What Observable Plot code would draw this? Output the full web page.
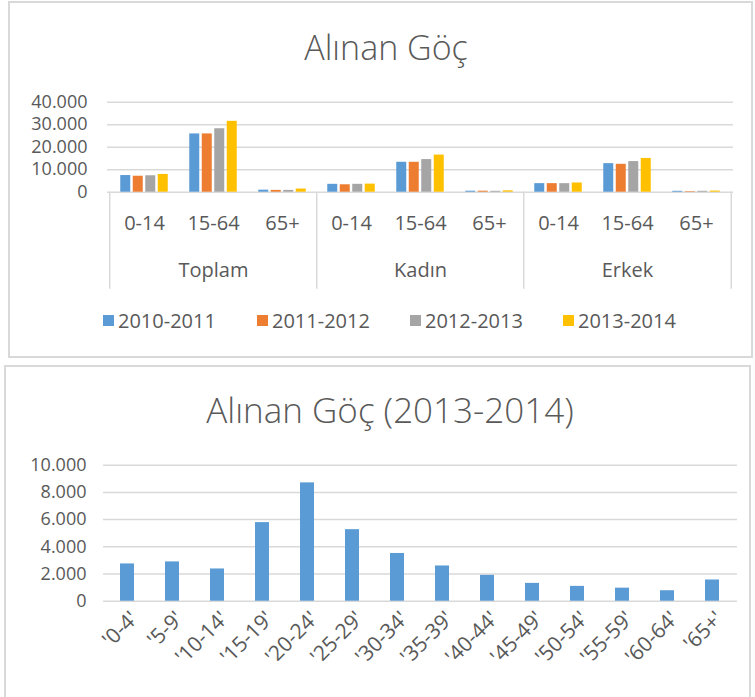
<!DOCTYPE html>
<html>
<head>
<meta charset="utf-8">
<script src="https://cdn.jsdelivr.net/npm/d3@7"></script>
<script src="https://cdn.jsdelivr.net/npm/@observablehq/plot@0.6"></script>
<style>
  body { margin: 0; background: #fff; font-family: "Open Sans", sans-serif; color: #595959; }
  #page { position: relative; width: 755px; height: 697px; overflow: hidden; background: #fff; }
  .panel { position: absolute; border: 2px solid #d9d9d9; box-sizing: border-box; background: #fff; }
  .title { position: absolute; width: 600px; text-align: center; font-weight: 300; font-size: 34px; line-height: 40px; color: #595959; white-space: nowrap; }
  .chart { position: absolute; left: 0; }
  .legend { position: absolute; left: 0; top: 306px; width: 755px; height: 28px; display: flex; align-items: center; font-size: 20px; color: #595959; }
  .legend .item { position: absolute; display: flex; align-items: center; }
  .legend .sw { width: 11px; height: 11px; margin-right: 4px; }
</style>
</head>
<body>
<div id="page">
  <div class="panel" style="left:8px;top:1px;width:745px;height:357px;"></div>
  <div class="panel" style="left:4px;top:365px;width:747px;height:340px;"></div>
  <div class="title" style="top:27px;left:86px;">Alınan Göç</div>
  <div class="title" style="top:390px;left:90px;font-size:35px;">Alınan Göç (2013-2014)</div>
  <div id="top" class="chart" style="top:80px;"></div>
  <div id="legend" class="legend"></div>
  <div id="bottom" class="chart" style="top:440px;"></div>
</div>
<script>
// ---------- data ----------
const groups = ["Toplam", "Kadın", "Erkek"];
const ages = ["0-14", "15-64", "65+"];
const periods = ["2010-2011", "2011-2012", "2012-2013", "2013-2014"];
const periodColors = ["#5B9BD5", "#ED7D31", "#A5A5A5", "#FFC000"];
// values per age group, one entry per period
const toplamValues = [[7400, 7100, 7300, 7900], [25900, 25900, 28200, 31500], [900, 800, 800, 1400]];
const kadinValues = [[3500, 3300, 3500, 3600], [13300, 13300, 14500, 16500], [450, 450, 400, 600]];
const erkekValues = [[3800, 3800, 3800, 4100], [12700, 12400, 13600, 15000], [400, 250, 400, 500]];
const topTicks = [0, 10000, 20000, 30000, 40000];

const ageBands2014 = ["'0-4'", "'5-9'", "'10-14'", "'15-19'", "'20-24'", "'25-29'", "'30-34'", "'35-39'", "'40-44'", "'45-49'", "'50-54'", "'55-59'", "'60-64'", "'65+'"];
const values2014 = [2740, 2890, 2370, 5780, 8700, 5260, 3510, 2590, 1900, 1310, 1090, 960, 770, 1560];
const bottomTicks = [0, 2000, 4000, 6000, 8000, 10000];

// ---------- helpers ----------
const fmt = d => d === 0 ? "0" : d3.format(",")(d).replace(/,/g, ".");
const grid = "#d9d9d9";
const W = 755;

// ---------- top chart ----------
const groupValues = [toplamValues, kadinValues, erkekValues];
const keys = groups.flatMap(g => ages.map(a => g + "|" + a));
const rows = [];
groups.forEach((g, gi) => ages.forEach((a, ai) => periods.forEach((p, pi) => {
  rows.push({key: g + "|" + a, group: g, age: a, period: p, value: groupValues[gi][ai][pi]});
})));

const mL = 107, mR = 22;
const step = (W - mL - mR) / keys.length;
const barW = 10, barStep = 12.5;
const pin = 1 - barW / step;

const topChart = Plot.plot({
  width: W, height: 215,
  marginLeft: mL, marginRight: mR, marginTop: 21.7, marginBottom: 103.3,
  style: {fontFamily: "Open Sans", fontSize: "20px", color: "#595959", background: "transparent", overflow: "visible"},
  x: {domain: keys, paddingInner: pin, paddingOuter: pin / 2, tickSize: 0, tickPadding: 24, tickFormat: k => k.split("|")[1], label: null},
  y: {domain: [0, 40000], ticks: topTicks, tickFormat: fmt, tickSize: 0, tickPadding: 20, label: null},
  marks: [
    Plot.ruleY(topTicks, {stroke: grid, strokeWidth: 1.5}),
    ...periods.map((p, i) => Plot.barY(rows.filter(r => r.period === p), {
      x: "key", y: "value", fill: periodColors[i], dx: (i - 1.5) * barStep
    })),
    Plot.ruleX(groups, {x: g => g + "|0-14", dx: -step / 2, y1: 0, y2: 0, insetBottom: -97, stroke: grid, strokeWidth: 1.5}),
    Plot.ruleX([groups[groups.length - 1]], {x: g => g + "|65+", dx: step / 2, y1: 0, y2: 0, insetBottom: -97, stroke: grid, strokeWidth: 1.5}),
    Plot.text(groups, {x: g => g + "|15-64", text: d => d, frameAnchor: "bottom", dy: 78, lineAnchor: "middle", fill: "#595959", fontSize: 20})
  ]
});
topChart.querySelectorAll("[aria-label^='y-axis'] text").forEach(t => { t.style.fontSize = "18px"; });
document.getElementById("top").appendChild(topChart);

// legend
const legend = document.getElementById("legend");
const legendX = [103, 257, 410, 563];
periods.forEach((p, i) => {
  const it = document.createElement("div");
  it.className = "item";
  it.style.left = legendX[i] + "px";
  it.innerHTML = `<span class="sw" style="background:${periodColors[i]}"></span><span>${p}</span>`;
  legend.appendChild(it);
});

// ---------- bottom chart ----------
const rows2014 = ageBands2014.map((a, i) => ({age: a, value: values2014[i]}));
const bottomChart = Plot.plot({
  width: W, height: 250,
  marginLeft: 103, marginRight: 18, marginTop: 24.7, marginBottom: 89.3,
  style: {fontFamily: "Open Sans", fontSize: "18px", color: "#595959", background: "transparent", overflow: "visible"},
  x: {domain: ageBands2014, paddingInner: 0.685, paddingOuter: 0.3425, tickSize: 0, tickRotate: -45, tickPadding: 10, label: null},
  y: {domain: [0, 10000], ticks: bottomTicks, tickFormat: fmt, tickSize: 0, tickPadding: 17, label: null},
  marks: [
    Plot.ruleY(bottomTicks, {stroke: grid, strokeWidth: 1.5}),
    Plot.barY(rows2014, {x: "age", y: "value", fill: "#5B9BD5"})
  ]
});
bottomChart.querySelectorAll("[aria-label^='x-axis'] text").forEach(t => {
  t.style.fontSize = "21px";
  const tr = t.getAttribute("transform") || "";
  t.setAttribute("transform", "translate(7,4) " + tr);
});
document.getElementById("bottom").appendChild(bottomChart);
</script>
</body>
</html>
